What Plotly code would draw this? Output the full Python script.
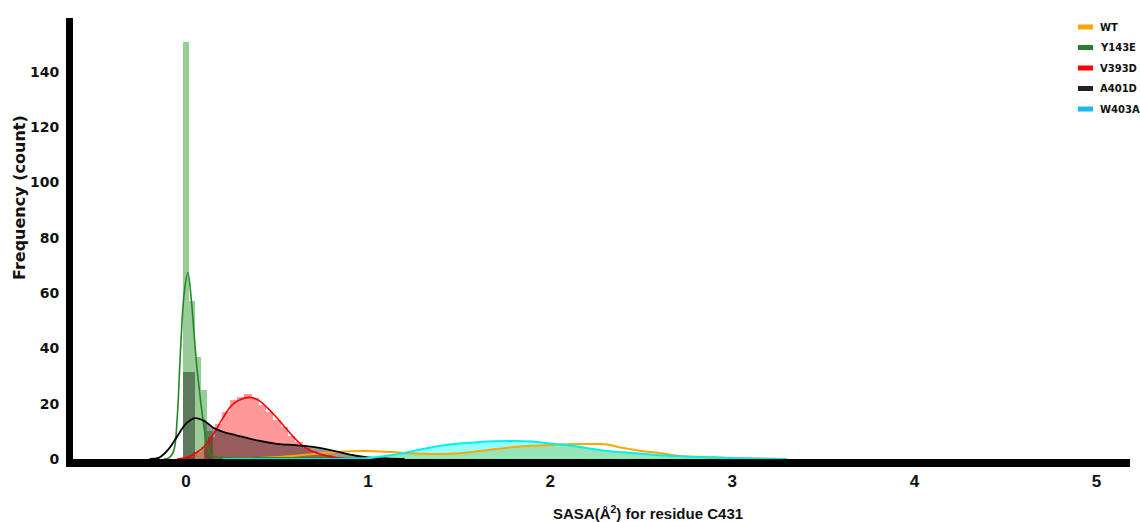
import numpy as np
import plotly.graph_objects as go

# ---------------- data ----------------
series_names = ["WT", "Y143E", "V393D", "A401D", "W403A"]
legend_colors = ["#ffa500", "#2a7f2a", "#ff0000", "#222222", "#1ab8f0"]

# Y143E histogram
y143e_edges = [-0.016, 0.017, 0.05, 0.083, 0.116, 0.149]
y143e_counts = [151, 57, 37, 25, 10]
# Y143E KDE
y143e_kde_x = [-0.12, -0.09, -0.066, -0.048, -0.03, -0.01, 0.01, 0.03, 0.044, 0.06,
               0.08, 0.1, 0.12, 0.14, 0.2, 0.4, 0.6, 0.8, 1.0]
y143e_kde_y = [0, 0.6, 3.3, 15.2, 39.4, 60, 67.3, 57, 45.6, 33,
               21.3, 11, 4.2, 1.2, 0.5, 0.4, 0.4, 0.3, 0]

# V393D histogram (bin centres, width 0.04)
v393d_centers = [0.02, 0.06, 0.10, 0.14, 0.18, 0.22, 0.26, 0.30, 0.34, 0.38, 0.42,
                 0.46, 0.50, 0.54, 0.58, 0.62, 0.66, 0.70, 0.74, 0.78, 0.82, 0.86]
v393d_counts = [0.8, 2.5, 4.5, 8, 12.5, 17, 21.5, 22.5, 23.5, 22, 19.5,
                17, 14, 11.5, 8.5, 6, 4, 2.8, 2, 1.3, 0.8, 0.4]
v393d_kde_x = [-0.05, 0.0, 0.05, 0.1, 0.15, 0.2, 0.25, 0.3, 0.35, 0.4, 0.45,
               0.5, 0.55, 0.6, 0.65, 0.7, 0.75, 0.8, 0.85, 0.9]
v393d_kde_y = [0, 0.5, 2.0, 4.5, 9.0, 14.5, 19.3, 21.5, 22.3, 21.2, 18.3,
               14.8, 11.0, 7.3, 4.3, 2.6, 1.5, 0.8, 0.3, 0]

# A401D histogram (first bin) and KDE
a401d_edges = [-0.016, 0.05]
a401d_counts = [31.5]
a401d_kde_x = [-0.2, -0.15, -0.1, -0.05, 0.0, 0.05, 0.1, 0.15, 0.2, 0.25, 0.3,
               0.4, 0.5, 0.6, 0.7, 0.8, 0.9, 1.0, 1.1, 1.2]
a401d_kde_y = [0, 0.4, 3.2, 8.0, 12.8, 14.8, 13.8, 11.3, 9.9, 9.0, 8.2,
               6.6, 5.5, 5.0, 4.4, 3.1, 1.6, 0.6, 0.2, 0]

# WT and W403A KDEs on a shared grid
grid_x = [0.2, 0.3, 0.4, 0.5, 0.6, 0.7, 0.8, 0.9, 1.0, 1.1, 1.2, 1.3, 1.4, 1.5, 1.6, 1.7,
          1.8, 1.9, 2.0, 2.1, 2.2, 2.3, 2.4, 2.5, 2.6, 2.7, 2.8, 2.9, 3.0, 3.1, 3.2, 3.3]
wt_kde_y = [0.1, 0.2, 0.4, 0.7, 1.2, 1.8, 2.4, 2.8, 2.9, 2.6, 2.2, 1.9, 1.8, 2.1, 2.8, 3.6,
            4.3, 4.8, 5.1, 5.3, 5.4, 5.3, 4.0, 2.9, 2.2, 1.2, 0.8, 0.6, 0.4, 0.25, 0.1, 0]
w403a_kde_y = [0, 0, 0, 0, 0, 0, 0, 0.1, 0.4, 1.2, 2.2, 3.6, 4.8, 5.6, 6.1, 6.4,
               6.5, 6.3, 5.6, 5.0, 4.0, 3.0, 2.4, 1.9, 1.4, 1.0, 0.7, 0.5, 0.35, 0.2, 0.1, 0]

x_ticks = [0, 1, 2, 3, 4, 5]
y_ticks = [0, 20, 40, 60, 80, 100, 120, 140]

# ---------------- figure ----------------
W, H = 1140, 522
PL, PR, PT, PB = 73, 1130, 18, 459   # plot area in pixels


def px_x(p):
    return (p - PL) / (PR - PL)


def px_y(p):
    return (PB - p) / (PB - PT)


def centers(edges):
    return [(a + b) / 2 for a, b in zip(edges[:-1], edges[1:])]


def widths(edges):
    return [b - a for a, b in zip(edges[:-1], edges[1:])]


fig = go.Figure()

# Y143E bars
fig.add_trace(go.Bar(x=centers(y143e_edges), y=y143e_counts, width=widths(y143e_edges),
                     marker=dict(color="rgba(0,128,0,0.4)", line=dict(width=0)),
                     name="Y143E", showlegend=False))
# V393D bars
fig.add_trace(go.Bar(x=v393d_centers, y=v393d_counts, width=[0.04] * len(v393d_centers),
                     marker=dict(color="rgba(255,0,0,0.4)", line=dict(width=0)),
                     name="V393D", showlegend=False))
# A401D bar
fig.add_trace(go.Bar(x=centers(a401d_edges), y=a401d_counts, width=widths(a401d_edges),
                     marker=dict(color="rgba(0,0,0,0.4)", line=dict(width=0)),
                     name="A401D", showlegend=False))
# A401D shaded area under KDE (right of the bar)
a_fx = [x for x in a401d_kde_x if x >= 0.1]
a_fy = [y for x, y in zip(a401d_kde_x, a401d_kde_y) if x >= 0.1]
fig.add_trace(go.Scatter(x=a_fx, y=a_fy, mode="lines", line=dict(width=0, shape="spline"),
                         fill="tozeroy", fillcolor="rgba(0,0,0,0.4)", showlegend=False,
                         hoverinfo="skip"))
# W403A area
fig.add_trace(go.Scatter(x=grid_x, y=w403a_kde_y, mode="lines", line=dict(width=0, shape="spline"),
                         fill="tozeroy", fillcolor="rgba(0,255,255,0.42)", showlegend=False,
                         hoverinfo="skip"))
# overlap of WT and W403A areas
overlap = np.minimum(np.array(wt_kde_y), np.array(w403a_kde_y))
fig.add_trace(go.Scatter(x=grid_x, y=overlap, mode="lines", line=dict(width=0, shape="spline"),
                         fill="tozeroy", fillcolor="#95e5b8", showlegend=False, hoverinfo="skip"))

# KDE lines
fig.add_trace(go.Scatter(x=grid_x, y=wt_kde_y, mode="lines",
                         line=dict(color="#ffa500", width=2, shape="spline"), name="WT", showlegend=False))
fig.add_trace(go.Scatter(x=y143e_kde_x, y=y143e_kde_y, mode="lines",
                         line=dict(color="#1f8a1f", width=1.6, shape="spline"), name="Y143E", showlegend=False))
fig.add_trace(go.Scatter(x=v393d_kde_x, y=v393d_kde_y, mode="lines",
                         line=dict(color="#ff0000", width=1.6, shape="spline"), name="V393D", showlegend=False))
fig.add_trace(go.Scatter(x=a401d_kde_x, y=a401d_kde_y, mode="lines",
                         line=dict(color="#000000", width=1.8, shape="spline"), name="A401D", showlegend=False))
fig.add_trace(go.Scatter(x=grid_x, y=w403a_kde_y, mode="lines",
                         line=dict(color="#00f0f0", width=2, shape="spline"), name="W403A", showlegend=False))

# custom legend (top right)
shapes = []
annotations = []
leg_rows = [27, 47.5, 68, 88.5, 109]
for name, col, py in zip(series_names, legend_colors, leg_rows):
    shapes.append(dict(type="rect", xref="paper", yref="paper",
                       x0=px_x(1078), x1=px_x(1093), y0=px_y(py + 2.5), y1=px_y(py - 2.5),
                       fillcolor=col, line=dict(width=0)))
    annotations.append(dict(xref="paper", yref="paper", x=px_x(1098), y=px_y(py),
                            text=name, showarrow=False, xanchor="left", yanchor="middle",
                            font=dict(family="DejaVu Sans", size=10, color="#111", weight="bold")))

# axis titles as annotations
annotations.append(dict(xref="paper", yref="paper", x=px_x(648), y=px_y(512),
                        text="SASA(Å<sup>2</sup>) for residue C431", showarrow=False,
                        xanchor="center", yanchor="middle",
                        font=dict(family="Liberation Sans", size=15,
                                  color="#111", weight="bold")))
annotations.append(dict(xref="paper", yref="paper", x=px_x(19), y=px_y(198),
                        text="Frequency (count)", showarrow=False, textangle=-90,
                        xanchor="center", yanchor="middle",
                        font=dict(family="DejaVu Sans", size=16, color="#111", weight="bold")))

fig.update_layout(
    width=W, height=H,
    margin=dict(l=PL, r=W - PR, t=PT, b=H - PB, pad=0),
    paper_bgcolor="white", plot_bgcolor="white",
    barmode="overlay", bargap=0,
    showlegend=False,
    shapes=shapes, annotations=annotations,
    xaxis=dict(range=[-0.6205, 5.184], tickvals=x_ticks, ticktext=[str(t) for t in x_ticks],
               showgrid=False, zeroline=False, showline=True, linecolor="black", linewidth=8,
               ticks="", tickfont=dict(family="Liberation Sans", size=17, color="#111", weight="bold")),
    yaxis=dict(range=[0, 159.5], tickvals=y_ticks, ticktext=[str(t) for t in y_ticks],
               showgrid=False, zeroline=False, showline=True, linecolor="black", linewidth=7,
               ticks="", ticklabelstandoff=4,
               tickfont=dict(family="DejaVu Sans", size=14, color="#111", weight="bold")),
)

fig.write_html("out.html", config={"displayModeBar": False},
               post_script="document.body.style.margin='0';")
